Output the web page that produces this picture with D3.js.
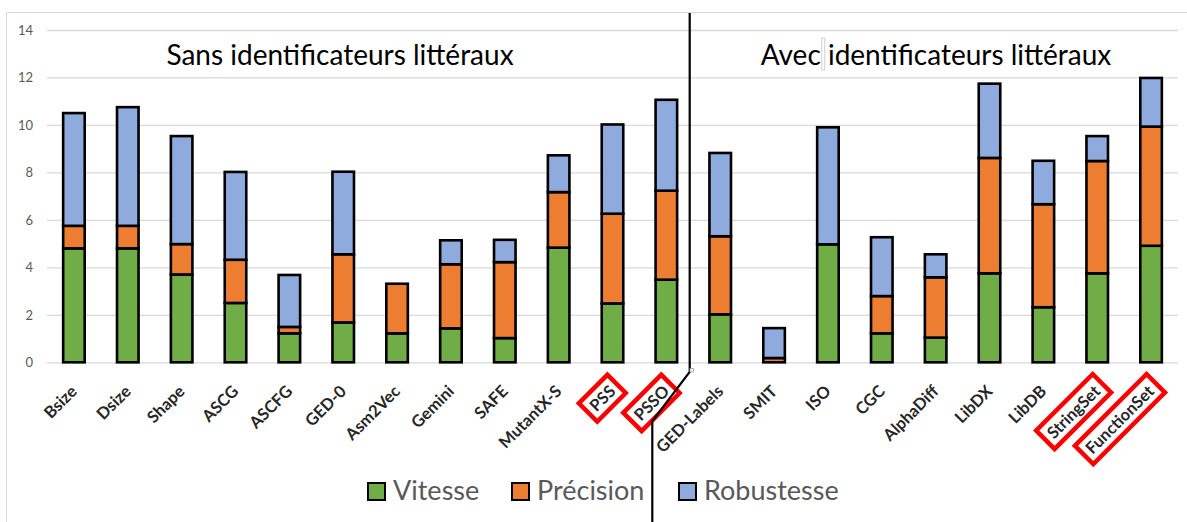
<!DOCTYPE html>
<html>
<head>
<meta charset="utf-8">
<script src="https://cdn.jsdelivr.net/npm/d3@7"></script>
<style>
  html, body { margin: 0; padding: 0; background: #fff; }
  svg { display: block; }
</style>
</head>
<body>
<svg id="chart" width="1187" height="522"></svg>
<script>
// Methods compared, left group without literal identifiers, right group with them
const categories = ["Bsize", "Dsize", "Shape", "ASCG", "ASCFG", "GED-0", "Asm2Vec", "Gemini", "SAFE", "MutantX-S", "PSS", "PSSO",
  "GED-Labels", "SMIT", "ISO", "CGC", "AlphaDiff", "LibDX", "LibDB", "StringSet", "FunctionSet"];
const vitesse    = [4.80, 4.80, 3.70, 2.50, 1.22, 1.68, 1.22, 1.43, 1.02, 4.83, 2.48, 3.48, 2.02, 0.00, 4.97, 1.22, 1.04, 3.75, 2.32, 3.75, 4.91];
const precision  = [0.95, 0.95, 1.28, 1.82, 0.27, 2.87, 2.09, 2.70, 3.20, 2.34, 3.78, 3.75, 3.29, 0.18, 0.00, 1.57, 2.54, 4.86, 4.34, 4.73, 5.02];
const robustesse = [4.75, 5.00, 4.55, 3.70, 2.19, 3.48, 0.00, 1.01, 0.94, 1.55, 3.76, 3.83, 3.51, 1.26, 4.93, 2.48, 0.97, 3.13, 1.83, 1.05, 2.05];
const seriesNames = ["Vitesse", "Précision", "Robustesse"];
const seriesColors = ["#70ad47", "#ed7d31", "#8faadc"];
const yTicks = [0, 2, 4, 6, 8, 10, 12, 14];
const highlighted = ["PSS", "PSSO", "StringSet", "FunctionSet"];
const groupTitles = ["Sans identificateurs littéraux", "Avec identificateurs littéraux"];

const svg = d3.select("#chart");
const font = "Lato, 'Open Sans', sans-serif";

const plot = { left: 47, right: 1178, top: 30, bottom: 362.3 };

const x = d3.scaleBand().domain(categories)
  .range([plot.left, plot.right]).paddingInner(0.6).paddingOuter(0.3);
const y = d3.scaleLinear().domain([0, 14]).range([plot.bottom, plot.top]);

// chart area frame
svg.append("path")
  .attr("d", "M6.5,522 V12.5 H1187")
  .attr("fill", "none").attr("stroke", "#d9d9d9").attr("stroke-width", 1);

// horizontal gridlines + value labels
const yAxis = d3.axisLeft(y).tickValues(yTicks).tickSize(-(plot.right - plot.left)).tickPadding(14);
const gy = svg.append("g").attr("transform", `translate(${plot.left},0)`).call(yAxis);
gy.select(".domain").remove();
gy.selectAll(".tick line").attr("stroke", "#d9d9d9").attr("stroke-width", 1.3);
gy.selectAll(".tick text").attr("fill", "#595959").attr("font-family", font).attr("font-size", 13);

// stacked bars
const rows = categories.map((c, i) => ({ cat: c, Vitesse: vitesse[i], "Précision": precision[i], Robustesse: robustesse[i] }));
const stacked = d3.stack().keys(seriesNames)(rows);

svg.append("g").selectAll("g").data(stacked).join("g")
  .attr("fill", (d, i) => seriesColors[i])
  .selectAll("rect")
  .data(d => d.filter(s => s[1] - s[0] > 0))
  .join("rect")
  .attr("x", d => x(d.data.cat))
  .attr("width", x.bandwidth())
  .attr("y", d => y(d[1]))
  .attr("height", d => y(d[0]) - y(d[1]))
  .attr("stroke", "#000").attr("stroke-width", 2.6);

// rotated category labels, some framed in red
const labels = svg.append("g").selectAll("g").data(categories).join("g")
  .attr("transform", d => `translate(${x(d) + x.bandwidth() / 2},${plot.bottom + 26}) rotate(-45)`);
labels.append("text")
  .attr("text-anchor", "end")
  .attr("dy", "0.35em")
  .attr("font-family", font).attr("font-weight", 700).attr("font-size", 16.5)
  .attr("fill", "#262626")
  .text(d => d);
labels.filter(d => highlighted.includes(d)).each(function () {
  const g = d3.select(this);
  const bb = g.select("text").node().getBBox();
  const px = 6, py = 3;
  g.insert("rect", "text")
    .attr("x", bb.x - px).attr("y", bb.y - py)
    .attr("width", bb.width + 2 * px).attr("height", bb.height + 2 * py)
    .attr("fill", "#fff").attr("stroke", "#ff0000").attr("stroke-width", 4.5);
});

// group titles
const t1 = svg.append("text").attr("x", 340).attr("y", 65).attr("text-anchor", "middle")
  .attr("font-family", font).attr("font-size", 28).attr("fill", "#000").text(groupTitles[0]);
const t2 = svg.append("text").attr("x", 936).attr("y", 65).attr("text-anchor", "middle")
  .attr("font-family", font).attr("font-size", 28).attr("fill", "#000").text(groupTitles[1]);

// text-box edge marker after "Avec"
{
  const n = t2.node();
  const start = n.getStartPositionOfChar(0).x;
  const w = n.getSubStringLength(0, 4);
  svg.append("rect").attr("x", start + w + 1).attr("y", 38).attr("width", 3).attr("height", 32)
    .attr("fill", "none").attr("stroke", "#cfcfcf").attr("stroke-width", 1);
}

// separator between the two groups
svg.append("path")
  .attr("d", "M689.7,13 V372 L652.3,421 V522")
  .attr("fill", "none").attr("stroke", "#000").attr("stroke-width", 2.2);
svg.append("rect").attr("x", 690).attr("y", 368.5).attr("width", 3.5).attr("height", 3.5)
  .attr("fill", "#fff").attr("stroke", "#9a9a9a").attr("stroke-width", 0.8);

// legend
const legendX = [368, 512, 679];
const lg = svg.append("g").selectAll("g").data(seriesNames).join("g")
  .attr("transform", (d, i) => `translate(${legendX[i]},483)`);
lg.append("rect").attr("width", 17).attr("height", 17)
  .attr("fill", (d, i) => seriesColors[i]).attr("stroke", "#000").attr("stroke-width", 2);
lg.append("text").attr("x", 25).attr("y", 17)
  .attr("font-family", font).attr("font-size", 27).attr("fill", "#595959").text(d => d);
</script>
</body>
</html>
